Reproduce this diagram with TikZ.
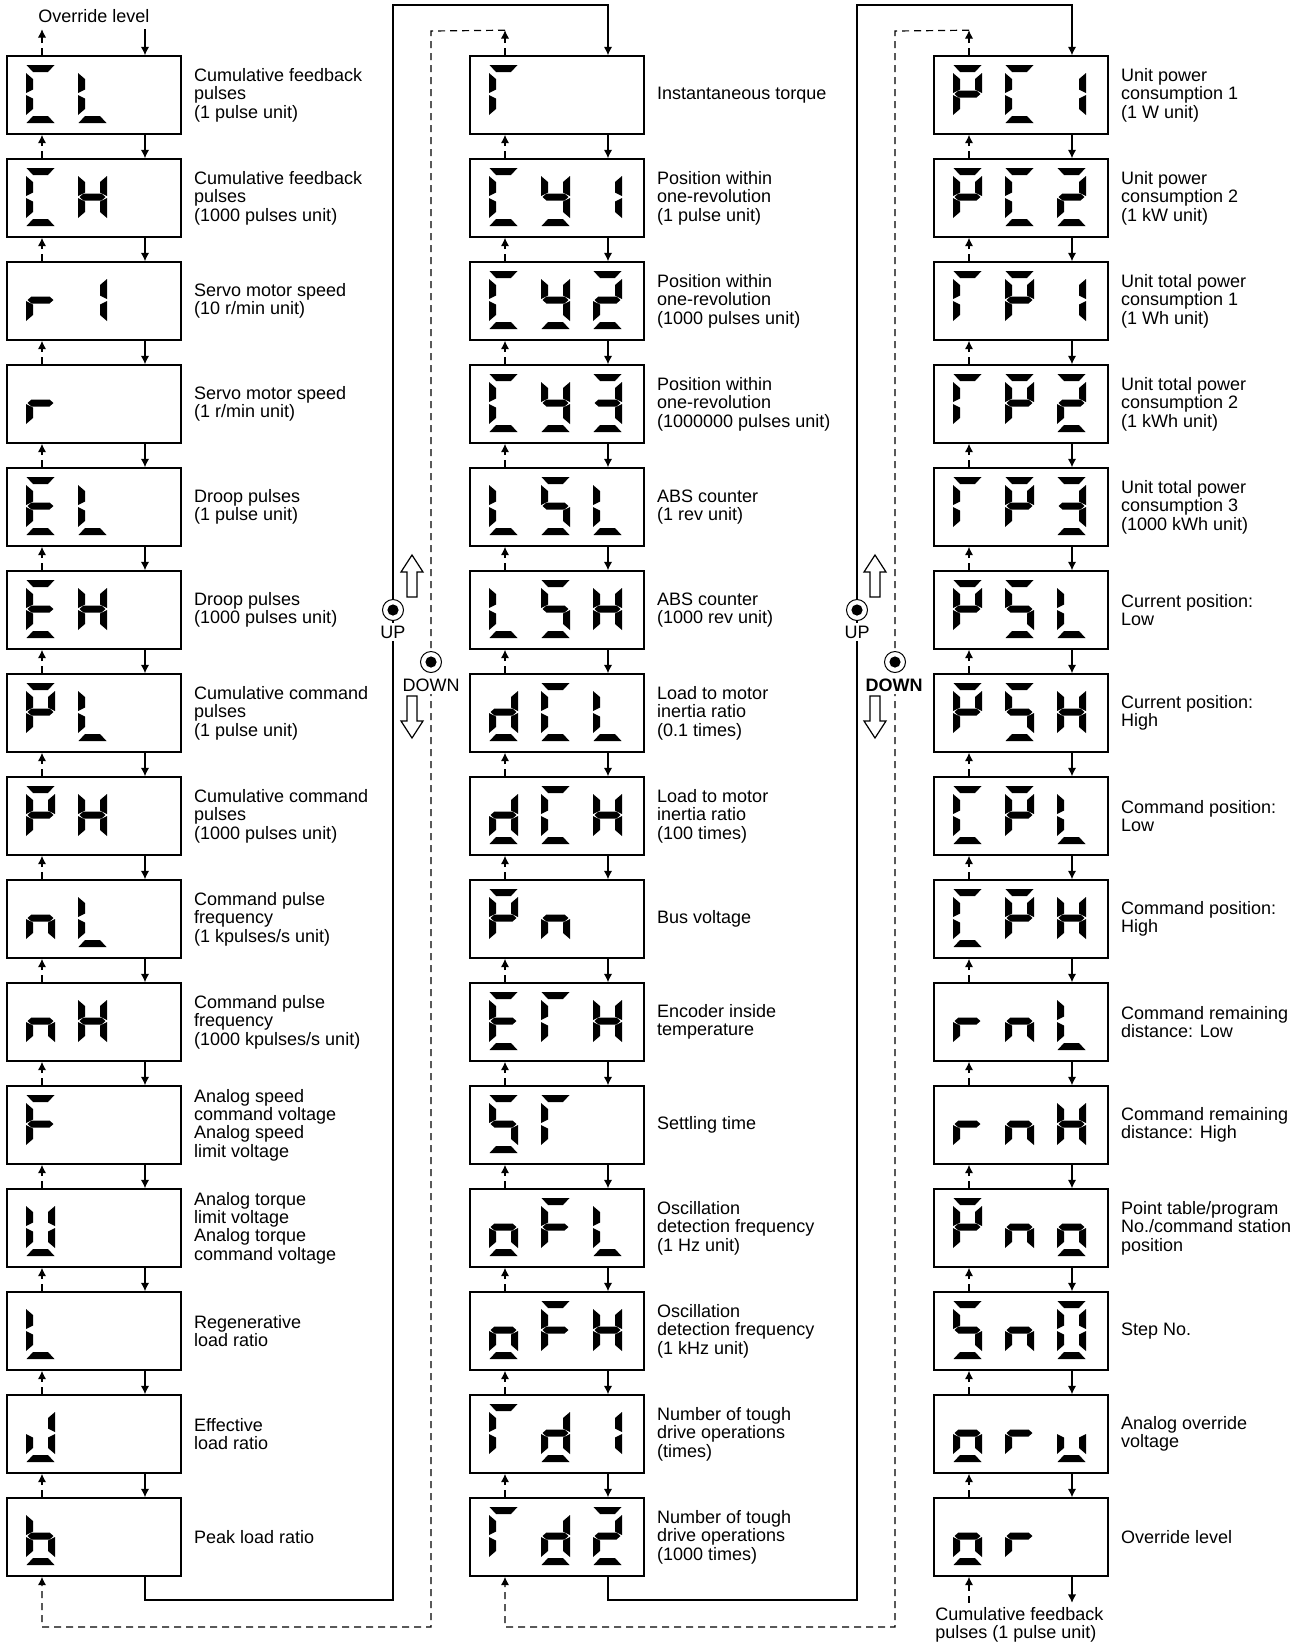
\documentclass[tikz,border=0pt]{standalone}
\usepackage{fontspec}
\setmainfont{Liberation Sans}
\usetikzlibrary{arrows.meta,positioning,calc}

\def\sega{(0.5,0) -- (28.5,0) -- (22,7) -- (7,7) -- cycle}
\def\segb{(29,8) -- (22,14) -- (22,24.5) -- (29,28) -- cycle}
\def\segc{(29,30) -- (22,33.5) -- (22,44) -- (29,50) -- cycle}
\def\segd{(0.5,58) -- (28.5,58) -- (22,51) -- (7,51) -- cycle}
\def\sege{(0,30) -- (7,33.5) -- (7,44) -- (0,50) -- cycle}
\def\segf{(0,8) -- (7,14) -- (7,24.5) -- (0,28) -- cycle}
\def\segg{(1.5,29) -- (5.5,25.5) -- (23.5,25.5) -- (27.5,29) -- (23.5,32.5) -- (5.5,32.5) -- cycle}

\def\sgX{}
\def\sgC{a,d,e,f}
\def\sgL{d,e,f}
\def\sgH{b,c,e,f,g}
\def\sgr{e,g}
\def\sgE{a,d,e,f,g}
\def\sgP{a,b,e,f,g}
\def\sgn{c,e,g}
\def\sgF{a,e,f,g}
\def\sgU{b,c,d,e,f}
\def\sgJ{b,c,d,e}
\def\sgb{c,d,e,f,g}
\def\sgT{a,e,f}
\def\sgy{b,c,d,f,g}
\def\sgS{a,c,d,f,g}
\def\sgd{b,c,d,e,g}
\def\sgo{c,d,e,g}
\def\sgu{c,d,e}
\expandafter\def\csname sg0\endcsname{a,b,c,d,e,f}
\expandafter\def\csname sg1\endcsname{b,c}
\expandafter\def\csname sg2\endcsname{a,b,d,e,g}
\expandafter\def\csname sg3\endcsname{a,b,c,d,g}

\newcommand{\lcd}[3]{%
  \edef\seglist{\csname sg#3\endcsname}%
  \ifx\seglist\empty\else
    \foreach \s in \seglist {\fill[shift={($(#1.center)+(-68+52*#2,-30)$)}] \csname seg\s\endcsname;}%
  \fi}

\begin{document}
\begin{tikzpicture}[x=0.5pt,y=-0.5pt,>={Latex[length=4.2pt,width=4.2pt]},
  disp/.style={draw,line width=0.8pt,minimum width=87pt,minimum height=39pt,inner sep=0pt},
  lbl/.style={anchor=west,align=left,inner sep=0pt,font=\fontsize{9}{9.2}\selectfont},
  downline/.style={->,line width=0.6pt},
  upline/.style={->,line width=0.6pt,dash pattern=on 3.5pt off 2.5pt},
  btn/.style={circle,draw,line width=0.5pt,fill=white,minimum size=10.5pt,inner sep=0pt,
    path picture={\fill[black] (path picture bounding box.center) circle[radius=2.8pt];}},
  btnlbl/.style={fill=white,inner sep=1.2pt,font=\fontsize{9}{9.2}\selectfont},
  hollow/.style={draw,line width=0.6pt,fill=white}]
  \useasboundingbox (0,0) rectangle (1305,1646);

  \foreach \i/\ca/\cb/\cc/\txt in {
    1/C/L/X/{Cumulative feedback\\pulses\\(1 pulse unit)},
    2/C/H/X/{Cumulative feedback\\pulses\\(1000 pulses unit)},
    3/r/1/X/{Servo motor speed\\(10 r/min unit)},
    4/r/X/X/{Servo motor speed\\(1 r/min unit)},
    5/E/L/X/{Droop pulses\\(1 pulse unit)},
    6/E/H/X/{Droop pulses\\(1000 pulses unit)},
    7/P/L/X/{Cumulative command\\pulses\\(1 pulse unit)},
    8/P/H/X/{Cumulative command\\pulses\\(1000 pulses unit)},
    9/n/L/X/{Command pulse\\frequency\\(1 kpulses/s unit)},
    10/n/H/X/{Command pulse\\frequency\\(1000 kpulses/s unit)},
    11/F/X/X/{Analog speed\\command voltage\\Analog speed\\limit voltage},
    12/U/X/X/{Analog torque\\limit voltage\\Analog torque\\command voltage},
    13/L/X/X/{Regenerative\\load ratio},
    14/J/X/X/{Effective\\load ratio},
    15/b/X/X/{Peak load ratio}}{
    \node[disp] (a\i) at (94,{95+103*(\i-1)}) {};
    \node[lbl,right=6pt of a\i] (at\i) {\txt};
    \lcd{a\i}{0}{\ca}\lcd{a\i}{1}{\cb}\lcd{a\i}{2}{\cc}
  }

  \foreach \i/\ca/\cb/\cc/\txt in {
    1/T/X/X/{Instantaneous torque},
    2/C/y/1/{Position within\\one-revolution\\(1 pulse unit)},
    3/C/y/2/{Position within\\one-revolution\\(1000 pulses unit)},
    4/C/y/3/{Position within\\one-revolution\\(1000000 pulses unit)},
    5/L/S/L/{ABS counter\\(1 rev unit)},
    6/L/S/H/{ABS counter\\(1000 rev unit)},
    7/d/C/L/{Load to motor\\inertia ratio\\(0.1 times)},
    8/d/C/H/{Load to motor\\inertia ratio\\(100 times)},
    9/P/n/X/{Bus voltage},
    10/E/T/H/{Encoder inside\\temperature},
    11/S/T/X/{Settling time},
    12/o/F/L/{Oscillation\\detection frequency\\(1 Hz unit)},
    13/o/F/H/{Oscillation\\detection frequency\\(1 kHz unit)},
    14/T/d/1/{Number of tough\\drive operations\\(times)},
    15/T/d/2/{Number of tough\\drive operations\\(1000 times)}}{
    \node[disp] (b\i) at (557,{95+103*(\i-1)}) {};
    \node[lbl,right=6pt of b\i] (bt\i) {\txt};
    \lcd{b\i}{0}{\ca}\lcd{b\i}{1}{\cb}\lcd{b\i}{2}{\cc}
  }

  \foreach \i/\ca/\cb/\cc/\txt in {
    1/P/C/1/{Unit power\\consumption 1\\(1 W unit)},
    2/P/C/2/{Unit power\\consumption 2\\(1 kW unit)},
    3/T/P/1/{Unit total power\\consumption 1\\(1 Wh unit)},
    4/T/P/2/{Unit total power\\consumption 2\\(1 kWh unit)},
    5/T/P/3/{Unit total power\\consumption 3\\(1000 kWh unit)},
    6/P/S/L/{Current position:\\Low},
    7/P/S/H/{Current position:\\High},
    8/C/P/L/{Command position:\\Low},
    9/C/P/H/{Command position:\\High},
    10/r/n/L/{Command remaining\\distance: Low},
    11/r/n/H/{Command remaining\\distance: High},
    12/P/n/o/{Point table/program\\No./command station\\position},
    13/S/n/0/{Step No.},
    14/o/r/u/{Analog override\\voltage},
    15/o/r/X/{Override level}}{
    \node[disp] (c\i) at (1021,{95+103*(\i-1)}) {};
    \node[lbl,right=6pt of c\i] (ct\i) {\txt};
    \lcd{c\i}{0}{\ca}\lcd{c\i}{1}{\cb}\lcd{c\i}{2}{\cc}
  }

  \foreach \k in {a,b,c}{
    \foreach \i in {1,...,14}{
      \pgfmathtruncatemacro\j{\i+1}
      \draw[downline] ($(\k\i.south)+(51,0)$) -- ($(\k\j.north)+(51,0)$);
      \draw[upline] ($(\k\j.north)+(-52,0)$) -- ($(\k\i.south)+(-52,0)$);
    }
  }

  \node[lbl,anchor=center] (ovtxt) at (94,16) {Override level};
  \coordinate (ovl) at ($(a1.north)+(-52,-26)$);
  \coordinate (ovr) at ($(a1.north)+(51,-26)$);
  \draw[upline] (a1.north -| ovl) -- (ovl);
  \draw[downline] (ovr) -- (a1.north -| ovr);

  \node[lbl] (fbtxt) at (935,1625) {Cumulative feedback\\pulses (1 pulse unit)};
  \coordinate (fbl) at ($(c15.south)+(-52,26)$);
  \coordinate (fbr) at ($(c15.south)+(51,26)$);
  \draw[upline] (fbl) -- (c15.south -| fbl);
  \draw[downline] (c15.south -| fbr) -- (fbr);

  \coordinate (s1b) at (393,1600);
  \coordinate (s1t) at (393,5);
  \draw[downline] ($(a15.south)+(51,0)$) |- (s1b) -- (s1t) -| ($(b1.north)+(51,0)$);
  \coordinate (b1up) at ($(b1.north)+(-52,-25)$);
  \coordinate (d1t) at (431,31);
  \coordinate (d1b) at (431,1627);
  \draw[upline] ($(b1.north)+(-52,0)$) -- (b1up);
  \draw[upline] (b1up) -- (d1t) -- (d1b) -| ($(a15.south)+(-52,0)$);

  \coordinate (s2b) at (857,1600);
  \coordinate (s2t) at (857,5);
  \draw[downline] ($(b15.south)+(51,0)$) |- (s2b) -- (s2t) -| ($(c1.north)+(51,0)$);
  \coordinate (c1up) at ($(c1.north)+(-52,-25)$);
  \coordinate (d2t) at (895,31);
  \coordinate (d2b) at (895,1627);
  \draw[upline] ($(c1.north)+(-52,0)$) -- (c1up);
  \draw[upline] (c1up) -- (d2t) -- (d2b) -| ($(b15.south)+(-52,0)$);

  \node[btnlbl] (up1l) at (393,632) {UP};
  \node[btn] (up1) at (393,610) {};
  \node[btnlbl] (dn1l) at (431,685) {DOWN};
  \node[btn] (dn1) at (431,662) {};
  \node[btnlbl] (up2l) at (857,632) {UP};
  \node[btn] (up2) at (857,610) {};
  \node[btnlbl,font=\fontsize{9}{9.2}\selectfont\bfseries] (dn2l) at (894,685) {DOWN};
  \node[btn] (dn2) at (895,662) {};

  \foreach \x/\y/\sy in {412/576/1,412/717/-1,875/576/1,875/717/-1}
    \draw[hollow,shift={(\x,\y)},yscale=\sy] (-5,21) -- (-5,-4) -- (-11,-4) -- (0,-21) -- (11,-4) -- (5,-4) -- (5,21) -- cycle;
\end{tikzpicture}
\end{document}
